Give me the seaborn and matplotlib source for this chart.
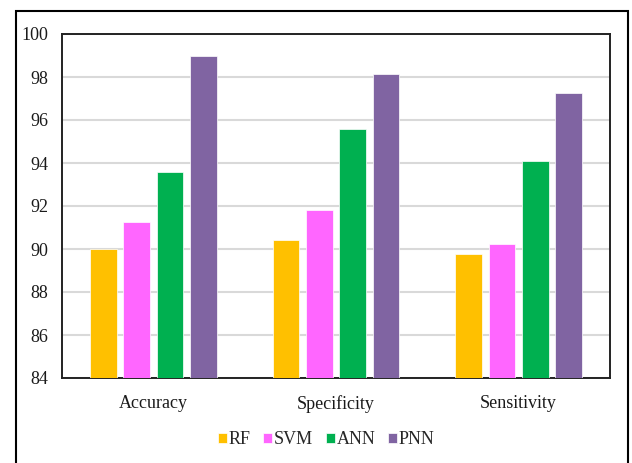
import matplotlib
matplotlib.use("Agg")
import matplotlib.pyplot as plt
from matplotlib.patches import Rectangle
import pandas as pd
import seaborn as sns

metrics = ["Accuracy", "Specificity", "Sensitivity"]
models = ["RF", "SVM", "ANN", "PNN"]
rf = [90.0, 90.4, 89.75]
svm = [91.25, 91.8, 90.25]
ann = [93.6, 95.6, 94.1]
pnn = [99.0, 98.15, 97.25]
colors = ["#FFC000", "#FF66FF", "#00B050", "#8064A2"]
y_ticks = [84, 86, 88, 90, 92, 94, 96, 98, 100]

rows = []
for model, vals in zip(models, [rf, svm, ann, pnn]):
    for metric, v in zip(metrics, vals):
        rows.append({"Metric": metric, "Model": model, "Value": v})
df = pd.DataFrame(rows)

sns.set_theme(style="white")
plt.rcParams["font.family"] = ["Liberation Serif", "DejaVu Serif"]

fig = plt.figure(figsize=(6.32, 4.63), dpi=100)
ax = fig.add_axes([62 / 632, 1 - 378 / 463, 548 / 632, 344 / 463])

sns.barplot(data=df, x="Metric", y="Value", hue="Model", order=metrics,
            hue_order=models, palette=colors, saturation=1, width=0.73, gap=0.2,
            errorbar=None, ax=ax, edgecolor="#FFFFFF", linewidth=0.5, zorder=3)

ax.set_ylim(84, 100)
ax.set_yticks(y_ticks)
ax.set_yticklabels([str(t) for t in y_ticks], fontsize=13, color="#1a1a1a")
ax.tick_params(axis="x", labelsize=13, pad=12, colors="#1a1a1a", length=0)
ax.tick_params(axis="y", pad=10, length=0)
ax.set_xlabel("")
ax.set_ylabel("")
ax.yaxis.grid(True, color="#D9D9D9", linewidth=1.5, zorder=0)
ax.set_axisbelow(True)
for s in ax.spines.values():
    s.set_visible(True)
    s.set_color("#222222")
    s.set_linewidth(1.4)

handles, labels = ax.get_legend_handles_labels()
ax.legend_.remove()
fig.legend(handles, labels, loc="center", bbox_to_anchor=(326 / 632, 1 - 440 / 463),
           ncol=4, frameon=False, fontsize=13, handlelength=0.5, handleheight=0.5,
           handletextpad=0.1, columnspacing=0.7)

# outer chart frame (bottom edge runs past the canvas)
frame = Rectangle((16 / 632, -0.05), (628 - 16) / 632, 1.05 - 11 / 463,
                  transform=fig.transFigure, fill=False, edgecolor="black",
                  linewidth=1.5)
fig.patches.append(frame)

fig.savefig("out.png", dpi=100)
